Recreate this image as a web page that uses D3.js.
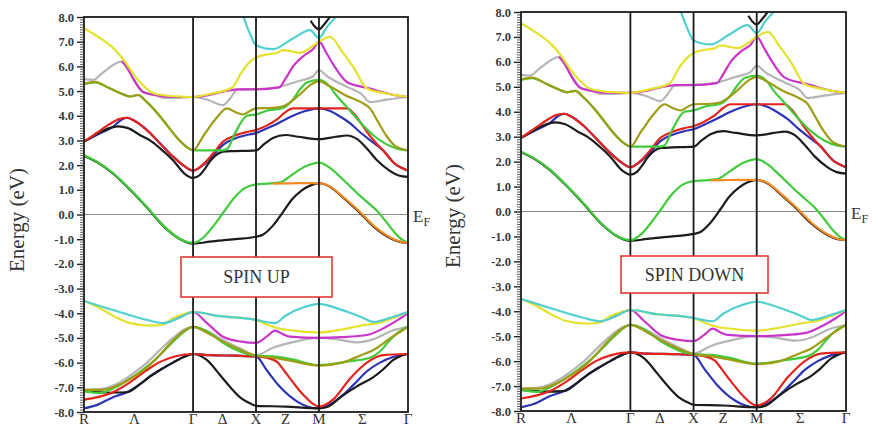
<!DOCTYPE html>
<html><head><meta charset="utf-8">
<script src="https://cdn.jsdelivr.net/npm/d3@7"></script>
<style>body{margin:0;background:#fff}svg{display:block}</style>
</head><body>
<svg id="c" width="874" height="431"></svg>
<script>
// ---- k-path (simple cubic): R - Γ - X - M - Γ
const kLabels = ["R","Λ","Γ","Δ","X","Z","M","Σ","Γ"];
const kLabelPos = [0, 0.40, 0.866, 1.10, 1.366, 1.60, 1.866, 2.21, 2.573];
const symLines = [0.866, 1.366, 1.866];
const kEnd = 2.573;
const yMajor = d3.range(-8, 8.001, 1);
const yMinor = d3.range(-80, 81).filter(i => i % 10 !== 0).map(i => i / 10);

// ---- conduction bands  [k, E(eV)]
const greenC1 = [[0,2.4],[0.1,2.15],[0.23,1.68],[0.37,1.0],[0.5,0.3],[0.627,-0.43],[0.76,-0.98],[0.866,-1.15],[0.95,-0.92],[1.03,-0.45],[1.104,0.06],[1.2,0.72],[1.28,1.08],[1.366,1.22],[1.45,1.25],[1.556,1.3],[1.65,1.6],[1.76,1.95],[1.866,2.1],[1.95,1.9],[2.05,1.45],[2.168,0.87],[2.25,0.5],[2.327,0.15],[2.4,-0.3],[2.47,-0.75],[2.52,-1.0],[2.573,-1.15]];
const blackC1 = [[0,2.38],[0.1,2.13],[0.23,1.66],[0.37,0.98],[0.5,0.28],[0.627,-0.45],[0.76,-0.99],[0.866,-1.18],[1.0,-1.1],[1.2,-1.0],[1.366,-0.9],[1.42,-0.82],[1.5,-0.45],[1.58,0.1],[1.65,0.6],[1.73,0.98],[1.8,1.18],[1.866,1.27],[1.95,1.13],[2.05,0.72],[2.176,0.14],[2.3,-0.49],[2.43,-0.95],[2.5,-1.1],[2.573,-1.15]];
const orangeC = [[1.5,1.25],[1.6,1.26],[1.7,1.27],[1.866,1.27],[1.95,1.15],[2.05,0.75],[2.176,0.18],[2.3,-0.45],[2.43,-0.92],[2.5,-1.08],[2.573,-1.15]];
const blackC2 = [[0,2.95],[0.1,3.25],[0.2,3.5],[0.27,3.57],[0.35,3.5],[0.45,3.2],[0.524,3.0],[0.6,2.7],[0.707,2.2],[0.8,1.65],[0.866,1.48],[0.92,1.6],[0.96,1.85],[1.0,2.15],[1.06,2.45],[1.104,2.55],[1.2,2.57],[1.366,2.6],[1.43,2.85],[1.5,3.1],[1.6,3.22],[1.7,3.15],[1.866,3.05],[2.0,3.15],[2.09,3.2],[2.17,3.05],[2.25,2.65],[2.327,2.2],[2.42,1.8],[2.5,1.58],[2.573,1.52]];
const redC2 = [[0,2.95],[0.1,3.3],[0.2,3.65],[0.28,3.87],[0.341,3.92],[0.4,3.8],[0.5,3.42],[0.6,2.9],[0.7,2.38],[0.8,1.95],[0.866,1.78],[0.95,2.05],[1.03,2.5],[1.104,2.95],[1.2,3.2],[1.3,3.35],[1.366,3.42],[1.45,3.6],[1.533,3.85],[1.6,4.15],[1.66,4.3],[1.866,4.3],[2.088,4.3],[2.14,4.1],[2.2,3.7],[2.247,3.35],[2.31,2.95],[2.374,2.6],[2.47,2.05],[2.573,1.78]];
const blueC2 = [[0,2.95],[0.1,3.22],[0.23,3.55],[0.3,3.85],[0.341,3.92],[0.4,3.8],[0.5,3.42],[0.6,2.9],[0.7,2.38],[0.8,1.95],[0.866,1.78],[0.95,2.02],[1.03,2.42],[1.104,2.82],[1.2,3.08],[1.3,3.23],[1.366,3.3],[1.45,3.48],[1.55,3.72],[1.65,3.98],[1.75,4.18],[1.866,4.3],[1.95,4.2],[2.03,3.98],[2.112,3.7],[2.2,3.3],[2.3,2.9],[2.374,2.6],[2.47,2.05],[2.573,1.78]];
const oliveC = [[0,5.3],[0.087,5.37],[0.2,5.12],[0.286,4.92],[0.365,4.78],[0.429,4.84],[0.5,4.55],[0.6,4.0],[0.659,3.62],[0.75,3.05],[0.82,2.72],[0.866,2.6],[0.95,3.2],[1.05,3.9],[1.136,4.3],[1.2,4.15],[1.263,4.05],[1.32,4.2],[1.366,4.3],[1.5,4.32],[1.58,4.38],[1.7,4.8],[1.8,5.25],[1.866,5.4],[1.95,5.2],[2.088,4.8],[2.2,4.55],[2.271,4.3],[2.33,3.8],[2.4,3.2],[2.47,2.78],[2.573,2.6]];
const greenC2 = [[0,5.28],[0.087,5.35],[0.2,5.12],[0.286,4.92],[0.365,4.78],[0.429,4.84],[0.5,4.55],[0.6,4.0],[0.659,3.62],[0.75,3.05],[0.82,2.72],[0.866,2.6],[1.0,2.6],[1.1,2.6],[1.136,2.65],[1.2,3.3],[1.294,4.0],[1.366,4.05],[1.45,4.2],[1.58,4.32],[1.65,4.6],[1.72,5.1],[1.77,5.35],[1.866,5.45],[1.95,5.2],[2.0,4.85],[2.088,4.35],[2.2,3.7],[2.3,3.2],[2.4,2.85],[2.5,2.65],[2.573,2.6]];
const grayC = [[0,5.48],[0.071,5.45],[0.15,5.75],[0.302,6.2],[0.35,5.85],[0.42,5.3],[0.469,4.96],[0.55,4.85],[0.643,4.72],[0.75,4.72],[0.866,4.76],[0.98,4.65],[1.104,4.43],[1.16,4.7],[1.215,5.05],[1.3,5.08],[1.366,5.08],[1.533,5.15],[1.7,5.4],[1.819,5.6],[1.866,5.85],[1.93,5.6],[2.088,5.17],[2.2,4.9],[2.271,4.55],[2.4,4.65],[2.573,4.76]];
const magentaC = [[0.302,6.2],[0.35,5.9],[0.39,5.5],[0.469,4.96],[0.55,4.85],[0.7,4.76],[0.866,4.76],[1.0,4.85],[1.104,4.98],[1.215,5.07],[1.366,5.07],[1.55,5.15],[1.6,5.5],[1.66,6.0],[1.75,6.45],[1.82,6.7],[1.866,7.0],[1.93,6.5],[1.977,6.1],[2.088,5.37],[2.271,5.1],[2.45,4.85],[2.573,4.76]];
const yellowC = [[0,7.55],[0.127,7.15],[0.22,6.8],[0.302,6.35],[0.421,5.5],[0.548,4.92],[0.65,4.82],[0.762,4.78],[0.866,4.76],[1.0,4.88],[1.104,5.0],[1.183,5.17],[1.25,5.75],[1.318,6.18],[1.366,6.35],[1.45,6.48],[1.533,6.54],[1.58,6.66],[1.715,6.55],[1.866,7.0],[1.953,7.2],[2.05,6.6],[2.136,6.0],[2.247,5.1],[2.4,4.9],[2.573,4.76]];
const cyanC = [[1.263,8.05],[1.32,7.3],[1.366,6.86],[1.501,6.7],[1.65,7.1],[1.795,7.47],[1.866,7.15],[1.93,7.6],[2.009,8.05]];
const blackC3 = [[1.8,7.85],[1.835,7.6],[1.866,7.5],[1.91,7.72],[1.96,8.05]];

// ---- valence bands
const cyanV = [[0,-3.5],[0.23,-3.87],[0.5,-4.27],[0.627,-4.4],[0.75,-4.2],[0.866,-3.95],[1.08,-4.12],[1.318,-4.23],[1.366,-4.27],[1.517,-4.4],[1.6,-4.1],[1.75,-3.75],[1.866,-3.62],[2.0,-3.78],[2.2,-4.15],[2.3,-4.35],[2.45,-4.15],[2.573,-3.95]];
const yellowV = [[0,-3.5],[0.127,-3.8],[0.25,-4.15],[0.35,-4.38],[0.524,-4.5],[0.627,-4.45],[0.707,-4.2],[0.8,-4.02],[0.866,-3.95],[1.08,-4.12],[1.318,-4.23],[1.366,-4.27],[1.45,-4.45],[1.533,-4.6],[1.7,-4.72],[1.866,-4.78],[2.0,-4.7],[2.2,-4.5],[2.35,-4.38],[2.45,-4.2],[2.573,-3.95]];
const magentaV = [[0.627,-4.42],[0.72,-4.25],[0.8,-4.05],[0.866,-3.95],[0.977,-4.4],[1.104,-4.95],[1.25,-5.15],[1.366,-5.2],[1.45,-4.95],[1.517,-4.7],[1.58,-4.85],[1.636,-4.95],[1.866,-5.0],[2.05,-4.97],[2.247,-4.88],[2.4,-4.55],[2.5,-4.25],[2.573,-4.0]];
const grayV = [[0,-7.1],[0.15,-7.05],[0.3,-6.75],[0.4,-6.4],[0.5,-6.0],[0.6,-5.5],[0.707,-5.0],[0.8,-4.65],[0.866,-4.55],[1.0,-4.78],[1.104,-5.08],[1.25,-5.45],[1.366,-5.7],[1.5,-5.4],[1.636,-5.2],[1.866,-5.0],[2.0,-5.05],[2.168,-5.18],[2.3,-5.05],[2.45,-4.7],[2.573,-4.55]];
const oliveV = [[0,-7.1],[0.15,-7.1],[0.3,-6.85],[0.4,-6.55],[0.5,-6.2],[0.6,-5.7],[0.707,-5.1],[0.8,-4.7],[0.866,-4.55],[1.0,-4.85],[1.104,-5.15],[1.25,-5.5],[1.366,-5.72],[1.5,-5.8],[1.636,-5.92],[1.866,-6.12],[2.05,-6.0],[2.2,-5.7],[2.295,-5.5],[2.45,-4.95],[2.573,-4.55]];
const greenV = [[0,-7.15],[0.127,-7.23],[0.25,-7.0],[0.35,-6.7],[0.45,-6.35],[0.55,-5.95],[0.65,-5.45],[0.75,-4.95],[0.866,-4.55],[1.0,-4.8],[1.104,-5.2],[1.239,-5.55],[1.366,-5.72],[1.5,-5.75],[1.636,-5.85],[1.866,-6.1],[2.1,-5.95],[2.271,-5.8],[2.35,-5.55],[2.43,-5.08],[2.5,-4.75],[2.573,-4.55]];
const redV = [[0,-7.5],[0.23,-7.2],[0.35,-6.85],[0.5,-6.3],[0.6,-5.98],[0.707,-5.77],[0.8,-5.67],[0.866,-5.65],[1.0,-5.7],[1.2,-5.72],[1.366,-5.75],[1.45,-5.8],[1.533,-5.97],[1.6,-6.4],[1.66,-6.8],[1.75,-7.35],[1.866,-7.78],[1.977,-7.5],[2.112,-6.65],[2.247,-6.0],[2.374,-5.7],[2.573,-5.65]];
const blackV = [[0,-7.15],[0.2,-7.22],[0.34,-7.2],[0.45,-6.85],[0.524,-6.56],[0.62,-6.25],[0.707,-6.0],[0.8,-5.75],[0.866,-5.65],[0.977,-5.9],[1.08,-6.5],[1.159,-6.98],[1.25,-7.45],[1.318,-7.65],[1.366,-7.75],[1.6,-7.78],[1.866,-7.85],[1.93,-7.8],[2.05,-7.35],[2.17,-6.95],[2.295,-6.6],[2.37,-6.3],[2.454,-5.9],[2.52,-5.72],[2.573,-5.65]];
const blueV = [[0,-7.85],[0.1,-7.72],[0.23,-7.4],[0.34,-7.2],[0.45,-6.85],[0.524,-6.56],[0.62,-6.25],[0.707,-6.0],[0.8,-5.75],[0.866,-5.65],[1.0,-5.7],[1.2,-5.72],[1.366,-5.75],[1.45,-6.3],[1.556,-6.98],[1.7,-7.6],[1.85,-7.85],[1.95,-7.7],[2.05,-7.35],[2.15,-6.85],[2.247,-6.35],[2.35,-6.0],[2.454,-5.77],[2.573,-5.65]];

// drawing order (bottom first) and colours
const bandList = [
  ["blue", blueC2], ["blue", blueV],
  ["black", blackC2], ["black", blackC3], ["black", blackV],
  ["red", redC2], ["red", redV],
  ["gray", grayC], ["gray", grayV],
  ["green", greenC2], ["green", greenV],
  ["olive", oliveC], ["olive", oliveV],
  ["magenta", magentaC], ["magenta", magentaV],
  ["yellow", yellowC], ["yellow", yellowV],
  ["cyan", cyanC], ["cyan", cyanV],
  ["black", blackC1], ["green", greenC1], ["orange", orangeC]
];
const colors = {blue:"#2c34b4", black:"#1c1c1c", red:"#e2241c", gray:"#b6b6b6", green:"#3fcb3a",
  olive:"#9d9d16", magenta:"#c935c9", yellow:"#e3e22c", cyan:"#52cfcf", orange:"#f38a22"};

const svg = d3.select("#c");
const fmt = v => d3.format(".1f")(v).replace("\u2212", "-");
const serif = "'Liberation Serif','DejaVu Serif',serif";

function drawPanel(cfg, idx) {
  const x = d3.scaleLinear().domain([0, kEnd]).range([cfg.x0, cfg.x1]);
  const y = d3.scaleLinear().domain([-8, 8]).range([cfg.y1, cfg.y0]);
  const g = svg.append("g");
  const cid = "clip" + idx;
  svg.append("defs").append("clipPath").attr("id", cid).append("rect")
    .attr("x", cfg.x0).attr("y", cfg.y0).attr("width", cfg.x1 - cfg.x0).attr("height", cfg.y1 - cfg.y0);

  // Fermi level
  g.append("line").attr("x1", x(0)).attr("x2", x(kEnd)).attr("y1", y(0)).attr("y2", y(0))
    .attr("stroke", "#8a8a8a").attr("stroke-width", 1.2);

  const line = d3.line().x(d => x(d[0])).y(d => y(d[1])).curve(d3.curveMonotoneX);
  const bg = g.append("g").attr("clip-path", `url(#${cid})`);
  bandList.forEach(([c, pts]) => {
    bg.append("path").attr("d", line(pts)).attr("fill", "none")
      .attr("stroke", colors[c]).attr("stroke-width", 2.2).attr("stroke-linejoin", "round");
  });

  // symmetry lines
  g.selectAll(".sym").data(symLines).join("line")
    .attr("x1", d => x(d)).attr("x2", d => x(d)).attr("y1", y(8)).attr("y2", y(-8))
    .attr("stroke", "#1a1a1a").attr("stroke-width", 1.8);
  // frame
  g.append("rect").attr("x", x(0)).attr("y", y(8)).attr("width", x(kEnd) - x(0)).attr("height", y(-8) - y(8))
    .attr("fill", "none").attr("stroke", "#1a1a1a").attr("stroke-width", 1.8);

  // y axis
  const ax = g.append("g").attr("transform", `translate(${x(0)},0)`);
  ax.call(d3.axisLeft(y).tickValues(yMinor).tickSize(4).tickFormat(""))
    .call(s => s.select(".domain").remove());
  ax.selectAll(".tick line").attr("stroke", "#333").attr("stroke-width", 0.8);
  const ax2 = g.append("g").attr("transform", `translate(${x(0)},0)`);
  ax2.call(d3.axisLeft(y).tickValues(yMajor).tickSize(7).tickPadding(3).tickFormat(fmt))
    .call(s => s.select(".domain").remove());
  ax2.selectAll(".tick line").attr("stroke", "#222").attr("stroke-width", 1.4);
  ax2.selectAll(".tick text").attr("font-family", serif).attr("font-weight", "bold")
    .attr("font-size", 12.5).attr("fill", "#3a3a3a");

  // k labels
  g.selectAll(".kl").data(kLabels).join("text")
    .attr("x", (d, i) => x(kLabelPos[i])).attr("y", cfg.y1 + 12)
    .attr("text-anchor", "middle").attr("font-family", serif).attr("font-size", 15).attr("fill", "#333")
    .text(d => d);

  // E_F
  const ef = g.append("text").attr("x", x(kEnd) + 5).attr("y", y(0) + 7)
    .attr("font-family", serif).attr("font-size", 17).attr("fill", "#333");
  ef.append("tspan").text("E");
  ef.append("tspan").attr("font-size", 12).attr("dy", 4).text("F");

  // y label
  g.append("text").attr("transform", `translate(${cfg.labX},${cfg.labY}) rotate(-90)`)
    .attr("text-anchor", "middle").attr("font-family", serif).attr("font-size", 21).attr("fill", "#333")
    .text("Energy (eV)");

  // spin box
  g.append("rect").attr("x", cfg.box[0]).attr("y", cfg.box[1]).attr("width", cfg.box[2]).attr("height", cfg.box[3])
    .attr("fill", "#fff").attr("stroke", "#e03a32").attr("stroke-width", 1.6);
  g.append("text").attr("x", cfg.box[0] + cfg.box[2] / 2).attr("y", cfg.box[1] + cfg.box[3] / 2 + 6)
    .attr("text-anchor", "middle").attr("font-family", serif).attr("font-size", 18).attr("fill", "#333")
    .text(cfg.title);
}

drawPanel({x0: 84, x1: 408, y0: 17, y1: 412, labX: 24, labY: 220, box: [181, 257, 151, 40], title: "SPIN UP"}, 0);
drawPanel({x0: 521, x1: 846, y0: 12, y1: 411, labX: 460, labY: 216, box: [621, 256, 147, 37], title: "SPIN DOWN"}, 1);
</script>
</body></html>
